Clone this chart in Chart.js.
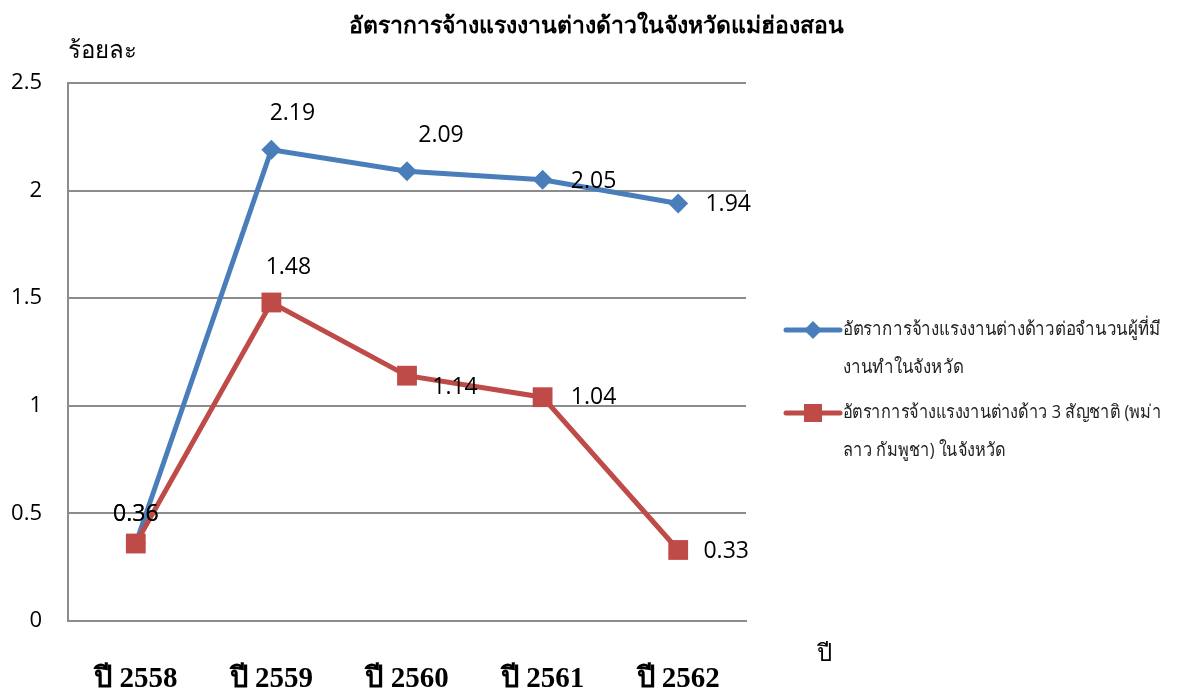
<!DOCTYPE html>
<html>
<head>
<meta charset="utf-8">
<script src="https://cdn.jsdelivr.net/npm/chart.js@4/dist/chart.umd.min.js"></script>
<style>
html,body{margin:0;padding:0;background:#fff;}
#wrap{width:1181px;height:693px;position:relative;}
</style>
</head>
<body>
<div id="wrap"><canvas id="c" width="1181" height="693"></canvas></div>
<script>
const categories = ['ปี 2558', 'ปี 2559', 'ปี 2560', 'ปี 2561', 'ปี 2562'];
const seriesNames = [
  ['อัตราการจ้างแรงงานต่างด้าวต่อจำนวนผู้ที่มี', 'งานทำในจังหวัด'],
  ['อัตราการจ้างแรงงานต่างด้าว 3 สัญชาติ (พม่า', 'ลาว กัมพูชา) ในจังหวัด']
];
const rateAllWorkers = [0.36, 2.19, 2.09, 2.05, 1.94];
const rateThreeNations = [0.36, 1.48, 1.14, 1.04, 0.33];
const yTicks = [0, 0.5, 1, 1.5, 2, 2.5];
const chartTitle = 'อัตราการจ้างแรงงานต่างด้าวในจังหวัดแม่ฮ่องสอน';
const yTitle = 'ร้อยละ';
const xTitle = 'ปี';

const BLUE = '#4A7EBB', RED = '#BE4B48', GRID = '#8c8c8c';
const SANS = '"Open Sans", "Noto Sans", sans-serif';
const SERIF = '"Liberation Serif", "DejaVu Serif", serif';

// label offsets (pixels) relative to each point
const labelOffsets = [
  [[0,-29],[21,-36],[34,-36],[51,2],[50,1]],
  [[0,-29],[17,-35],[48,12],[51,0],[48,1]]
];

const extras = {
  id: 'extras',
  afterDatasetsDraw(chart) {
    const ctx = chart.ctx;
    ctx.save();
    ctx.fillStyle = '#000';
    ctx.font = '23px ' + SANS;
    ctx.textAlign = 'center';
    ctx.textBaseline = 'middle';
    chart.data.datasets.forEach((ds, di) => {
      const meta = chart.getDatasetMeta(di);
      meta.data.forEach((pt, i) => {
        const o = labelOffsets[di][i];
        ctx.fillText(ds.data[i].toFixed(2), pt.x + o[0], pt.y + o[1]);
      });
    });
    // title
    ctx.font = 'bold 23px ' + SERIF;
    ctx.fillText(chartTitle, 596, 27);
    ctx.font = '24px ' + SERIF;
    ctx.fillText(yTitle, 102, 52);
    ctx.fillText(xTitle, 824, 655);
    // legend
    const items = [
      {c: BLUE, s: 'rectRot'},
      {c: RED, s: 'rect'}
    ];
    const ys = [330, 413];
    ctx.textAlign = 'left';
    items.forEach((it, k) => {
      const y = ys[k];
      ctx.strokeStyle = it.c;
      ctx.lineWidth = 5;
      ctx.lineCap = 'round';
      ctx.beginPath(); ctx.moveTo(786, y); ctx.lineTo(840, y); ctx.stroke();
      ctx.fillStyle = it.c;
      if (it.s === 'rect') { ctx.fillRect(813 - 9, y - 9, 18, 18); }
      else { ctx.beginPath(); ctx.moveTo(813, y-9); ctx.lineTo(822, y); ctx.lineTo(813, y+9); ctx.lineTo(804, y); ctx.closePath(); ctx.fill(); }
      ctx.fillStyle = '#222';
      ctx.font = '19px ' + SANS;
      const w = ctx.measureText(seriesNames[k][0]).width;
      const sx = Math.min(1, 318 / w);
      ctx.save();
      ctx.translate(843, y);
      ctx.scale(sx, 1);
      ctx.fillText(seriesNames[k][0], 0, 0);
      ctx.fillText(seriesNames[k][1], 0, 38);
      ctx.restore();
    });
    ctx.restore();
  }
};

new Chart(document.getElementById('c'), {
  type: 'line',
  data: {
    labels: categories,
    datasets: [
      {
        label: seriesNames[0].join(''),
        data: rateAllWorkers,
        borderColor: BLUE, backgroundColor: BLUE,
        borderWidth: 5, pointStyle: 'rectRot', pointRadius: 10,
        pointBorderWidth: 0, tension: 0, order: 1
      },
      {
        label: seriesNames[1].join(''),
        data: rateThreeNations,
        borderColor: RED, backgroundColor: RED,
        borderWidth: 5, pointStyle: 'rect', pointRadius: 14,
        pointBorderWidth: 0, tension: 0, order: 0
      }
    ]
  },
  options: {
    responsive: false,
    animation: false,
    devicePixelRatio: 1,
    layout: { padding: { left: 0, top: 83, right: 435, bottom: 0 } },
    plugins: { legend: { display: false }, tooltip: { enabled: false }, title: { display: false } },
    scales: {
      x: {
        offset: true,
        grid: { display: false, drawTicks: false },
        border: { display: true, color: GRID, width: 2 },
        ticks: { color: '#000', font: { family: SERIF, size: 29, weight: 'bold' }, padding: 41 },
        afterFit(s) { s.height = 72; }
      },
      y: {
        min: 0, max: 2.5,
        afterBuildTicks(s) { s.ticks = yTicks.map(v => ({ value: v })); },
        grid: { color: GRID, lineWidth: 2, drawTicks: false },
        border: { display: true, color: GRID, width: 2 },
        ticks: { color: '#000', font: { family: SANS, size: 22 }, padding: 26,
          callback: v => String(v) },
        afterFit(s) { s.width = 68; }
      }
    }
  },
  plugins: [extras]
});
</script>
</body>
</html>
